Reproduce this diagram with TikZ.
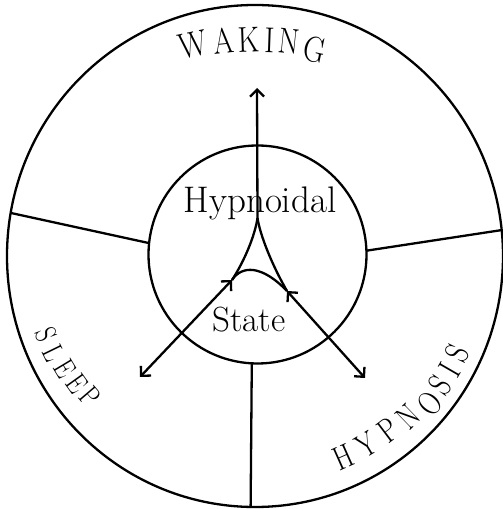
\documentclass[tikz,border=0pt]{standalone}
\usepackage{fontspec}
\usetikzlibrary{arrows.meta,shapes.geometric}
\begin{document}
\begin{tikzpicture}[x=1pt,y=1pt,
  >={Straight Barb[length=7pt,width=14pt]},
  ring/.style={draw, line width=2.3pt, inner sep=0pt, outer sep=0pt},
  divider/.style={line width=2.3pt},
  flow/.style={line width=2.3pt},
  lbl/.style={inner sep=0pt},
  wcap/.style={font=\fontsize{30}{30}\selectfont, inner sep=0pt, yscale=1.2},
  scap/.style={font=\fontsize{24}{24}\selectfont, inner sep=0pt, yscale=1.25},
  hcap/.style={font=\fontsize{27}{27}\selectfont, inner sep=0pt, yscale=1.25}]
\useasboundingbox (0,0) rectangle (503,509);
\fill[white] (0,0) rectangle (503,509);
% circles
\node[ring, ellipse, minimum width=496pt, minimum height=502pt] (outer) at (255,253) {};
\node[ring, circle, minimum size=218pt] (inner) at (257.5,254.5) {};
% dividers
\draw[divider] (outer.170.7) -- (inner.174);
\draw[divider] (inner.2.8) -- (outer.6.7);
\draw[divider] (inner.267.7) -- (outer.269.3);
% centre labels
\node[lbl, anchor=base, font=\fontsize{37}{37}\selectfont] (hyp) at (260,296) {Hypnoidal};
\node[lbl, anchor=base, font=\fontsize{35}{35}\selectfont] (state) at (249,177) {State};
% arrow points
\coordinate (apex) at (257.5,291);
\coordinate (wtip) at (257,421);
\coordinate (lj) at (232,229);
\coordinate (rj) at (287,218);
\coordinate (stip) at (140,132);
\coordinate (htip) at (365,131);
% arrows
\draw[flow, ->] (apex) -- (wtip);
\draw[flow] (apex) .. controls (255,274) and (245,249) .. (lj);
\draw[flow] (apex) .. controls (260,274) and (272,244) .. (rj);
\draw[flow] (lj) .. controls (242,244) and (262,244) .. (rj);
\draw[flow, <->] (lj) -- (stip);
\draw[flow, <->] (rj) -- (htip);
% WAKING
\node[rotate=12, wcap]  (w1) at (193.3,464) {W};
\node[rotate=6, wcap]   (w2) at (223.3,468) {A};
\node[rotate=2, wcap]   (w3) at (249,469) {K};
\node[rotate=-2, wcap]  (w4) at (270,469) {I};
\node[rotate=-6, wcap]  (w5) at (289,467.3) {N};
\node[rotate=-12, wcap] (w6) at (315,459) {G};
% SLEEP
\node[rotate=-69, scap]   (s1) at (46.7,174) {S};
\node[rotate=-64, scap]   (s2) at (53.3,155.7) {L};
\node[rotate=-59, scap]   (s3) at (65,140.7) {E};
\node[rotate=-54.5, scap] (s4) at (76.7,125.7) {E};
\node[rotate=-49.5, scap] (s5) at (90,112.3) {P};
% HYPNOSIS
\node[rotate=24, hcap] (h1) at (343.3,52.3) {H};
\node[rotate=31, hcap] (h2) at (366.7,64) {Y};
\node[rotate=37, hcap] (h3) at (388.3,79) {P};
\node[rotate=44, hcap] (h4) at (408.3,92.3) {N};
\node[rotate=50, hcap] (h5) at (430,105.7) {O};
\node[rotate=55, hcap] (h6) at (440,124) {S};
\node[rotate=60, hcap] (h7) at (450,139) {I};
\node[rotate=64, hcap] (h8) at (456.7,155.7) {S};
\end{tikzpicture}
\end{document}
